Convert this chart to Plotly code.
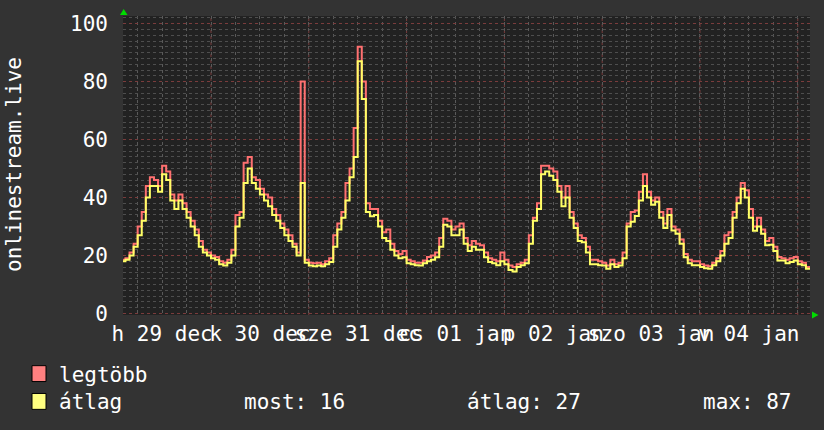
import plotly.graph_objects as go

# hours since 29 Dec 00:00
hours = list(range(2, 172))

avg_vals = [
    18, 18.5, 20, 23, 27, 32, 40, 44, 44, 42, 48, 46, 39, 36, 39, 36, 33, 30, 27, 23, 21, 20, 19,   # h2-24
    18.5, 17, 16.5, 17.5, 20, 30, 33, 45, 50, 45, 43, 41, 39, 37, 34, 32, 29.5, 27, 25, 23, 20, 45, 17.5, 16.5,  # h25-48
    16.3, 16.5, 16.3, 17, 17.7, 23, 29, 33, 39, 47, 54, 87, 74, 35, 33.5, 34, 30, 26, 25, 22, 20, 19, 19.4, 17.3,  # h49-72
    17, 16.6, 16.5, 17.3, 18, 18.5, 19.4, 23, 30.6, 30, 27, 27, 29, 24, 21.5, 23, 22, 22, 19.4, 17.7, 17.3, 16.6, 18, 17,  # h73-96
    15, 14.5, 16, 16.6, 17.3, 24, 32, 36, 48, 49, 47.5, 46, 42, 37, 40, 33, 29.5, 25, 24.6, 21, 17, 17, 16.6, 16.5,  # h97-120
    15.4, 17, 16, 16.5, 19, 30, 31.6, 33.6, 39, 44, 40, 37.5, 38.5, 33, 29.5, 34, 28.6, 27.5, 24, 19.4, 17.3, 16.6, 16.6, 16,  # h121-144
    15.6, 15.4, 16.6, 18, 20, 24, 26, 33, 38, 43, 40, 33, 28.5, 30, 27.5, 23.5, 23.7, 21.5, 18.3, 18.3, 17.3, 17.7, 18.3, 17,  # h145-168
    16.6, 15.4, 15.4,  # h169-171
]

max_vals = [
    18.5, 19, 21, 24, 30, 35, 44, 47, 46, 44, 51, 49, 41, 39, 41, 38, 35, 32, 29, 25, 22, 21, 20,
    19.5, 18, 17.5, 18.5, 22, 34, 35, 52, 54, 47, 46, 43, 41, 40, 36, 34, 31, 29, 27, 24, 21, 80, 18.5, 17.5,
    17.3, 17.5, 17, 18, 19, 27, 31, 35, 45, 50, 64, 92, 80, 38, 36, 36, 32, 28, 29, 24, 21.5, 20.5, 21.5, 18.5,
    18, 17.5, 17.5, 18.3, 19.5, 20, 21, 26, 32.7, 32, 29, 30, 31, 26, 23.5, 25, 24, 23.5, 21, 19, 18.5, 18, 21, 18.5,
    16.5, 16, 17, 17.5, 18.5, 27, 33, 38, 51, 51, 50, 49, 44, 40, 44, 35, 31, 27, 26, 23, 18.5, 18.5, 18, 17.5,
    16.5, 18.5, 17, 17.5, 21, 31, 35, 35.5, 42, 48, 42, 39, 40, 35, 31, 36, 30, 29, 25.5, 20.5, 18.5, 18, 18, 17,
    16.5, 16.3, 17.5, 19, 21.5, 27, 28, 35, 40, 45, 42.5, 36, 30, 33, 29, 25, 26, 23, 19.5, 19, 18.5, 19, 19.5, 18,
    17.5, 16, 16,
]

tick_hours = [12, 36, 60, 84, 108, 132, 156]
tick_labels = ["h 29 dec", "k 30 dec", "sze 31 dec", "cs 01 jan", "p 02 jan", "szo 03 jan", "v 04 jan"]

y_title = "onlinestream.live"
legend_names = ["legtöbb", "átlag"]
stats = ["most: 16", "átlag: 27", "max: 87"]

RED = "#ff7070"
YEL = "#ffff66"
FONT = "DejaVu Sans Mono"

fig = go.Figure()
fig.add_trace(go.Scatter(x=hours, y=max_vals, mode="lines", line=dict(color=RED, width=2, shape="hv"),
                         name=legend_names[0], showlegend=False))
fig.add_trace(go.Scatter(x=hours, y=avg_vals, mode="lines", line=dict(color=YEL, width=2, shape="hv"),
                         name=legend_names[1], showlegend=False))

W, H = 824, 430
L, R, T, B = 123, 810, 14, 315
pw, ph = R - L, B - T

def px(x):
    return (x - L) / pw

def py(y):
    return (B - y) / ph

fig.update_layout(
    width=W, height=H, autosize=False,
    margin=dict(l=L, r=W - R, t=T, b=H - B, pad=0),
    paper_bgcolor="#333333", plot_bgcolor="#222222",
    font=dict(family=FONT, color="white", size=21),
    xaxis=dict(range=[2.4, 171.0], tickmode="array", tickvals=tick_hours, ticktext=tick_labels,
               tickangle=0, showgrid=False, zeroline=False, showline=False, ticks="",
               ticklabelstandoff=4, tickfont=dict(size=21, color="white", family=FONT),
               minor=dict(tickmode="linear", tick0=0, dtick=6, showgrid=True, gridcolor="#5a5a5a",
                          griddash="dot", gridwidth=1)),
    yaxis=dict(range=[-0.55, 102.64], tickmode="linear", tick0=0, dtick=20,
               showgrid=True, gridcolor="#7a3c3c", griddash="dot", gridwidth=1,
               zeroline=False, showline=False, ticks="", ticklabelstandoff=14,
               tickfont=dict(size=21, color="white", family=FONT),
               minor=dict(tickmode="linear", tick0=0, dtick=2, showgrid=True, gridcolor="#4e4e4e",
                          griddash="dot", gridwidth=1)),
)

# major vertical gridlines (midnights)
shapes = []
for d in range(1, 8):
    shapes.append(dict(type="line", xref="x", yref="paper", x0=24 * d, x1=24 * d, y0=0, y1=1,
                       line=dict(color="#7a3c3c", width=1, dash="dot"), layer="below"))

# green arrows
shapes.append(dict(type="path", xref="paper", yref="paper",
                   path=f"M {px(120)} {py(13)} L {px(127.5)} {py(13)} L {px(123.7)} {py(7)} Z",
                   fillcolor="#00dd00", line=dict(width=0)))
shapes.append(dict(type="path", xref="paper", yref="paper",
                   path=f"M {px(812)} {py(311.5)} L {px(812)} {py(318.5)} L {px(818.5)} {py(315)} Z",
                   fillcolor="#00dd00", line=dict(width=0)))

# legend boxes
for i, col in enumerate(["#ff8080", "#ffff80"]):
    y0 = 366 + i * 28
    shapes.append(dict(type="rect", xref="paper", yref="paper",
                       x0=px(32), x1=px(46), y0=py(y0), y1=py(y0 + 16),
                       fillcolor=col, line=dict(color="black", width=1)))
fig.update_layout(shapes=shapes)

ann = [dict(text=y_title, xref="paper", yref="paper", x=px(14), y=py(164), textangle=-90,
            showarrow=False, font=dict(size=21, color="white", family=FONT),
            xanchor="center", yanchor="middle")]
ann.append(dict(text=legend_names[0], xref="paper", yref="paper", x=px(57), y=py(375),
                showarrow=False, xanchor="left", yanchor="middle",
                font=dict(size=21, color="white", family=FONT)))
ann.append(dict(text=legend_names[1], xref="paper", yref="paper", x=px(57), y=py(403),
                showarrow=False, xanchor="left", yanchor="middle",
                font=dict(size=21, color="white", family=FONT)))
for s, xl in zip(stats, [242, 465, 701]):
    ann.append(dict(text=s, xref="paper", yref="paper", x=px(xl), y=py(403),
                    showarrow=False, xanchor="left", yanchor="middle",
                    font=dict(size=21, color="white", family=FONT)))
fig.update_layout(annotations=ann)

fig.write_html("out.html", config={"displayModeBar": False},
               post_script="document.body.style.margin='0';document.body.style.background='#333333';")
